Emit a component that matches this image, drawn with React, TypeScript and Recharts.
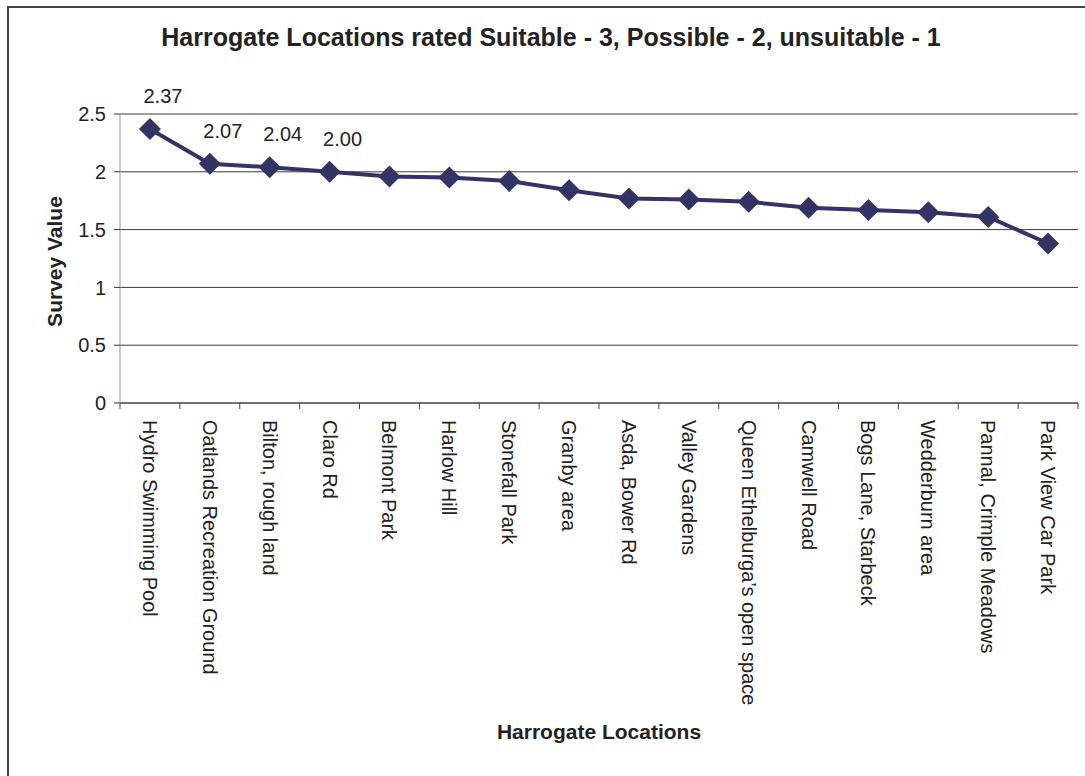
import { LineChart, Line, XAxis, YAxis, CartesianGrid, LabelList, Label } from 'recharts';

const categories = [
  'Hydro Swimming Pool',
  'Oatlands Recreation Ground',
  'Bilton, rough land',
  'Claro Rd',
  'Belmont Park',
  'Harlow Hill',
  'Stonefall Park',
  'Granby area',
  'Asda, Bower Rd',
  'Valley Gardens',
  'Queen Ethelburga’s open space',
  'Camwell Road',
  'Bogs Lane, Starbeck',
  'Wedderburn area',
  'Pannal, Crimple Meadows',
  'Park View Car Park',
];

const surveyValues = [2.37, 2.07, 2.04, 2.0, 1.96, 1.95, 1.92, 1.84, 1.77, 1.76, 1.74, 1.69, 1.67, 1.65, 1.61, 1.38];

const yTicks = [0, 0.5, 1, 1.5, 2, 2.5];

// only the first few points carry a value label in the original
const labelledCount = 4;

const data = categories.map((name, i) => ({ name, value: surveyValues[i] }));

const FONT = '"Liberation Sans", Arial, sans-serif';
const NAVY = '#333366';
const W = 1085;
const H = 776;
const PLOT_LEFT = 120;
const PLOT_RIGHT = 1078;
const HALF_BAND = (PLOT_RIGHT - PLOT_LEFT) / categories.length / 2;

function CategoryTick(props: any) {
  const { x, y, payload, index } = props;
  const top = y - 6;
  return (
    <g>
      <line x1={x - HALF_BAND} x2={x - HALF_BAND} y1={top} y2={top + 6} stroke="#444" />
      {index === categories.length - 1 && (
        <line x1={x + HALF_BAND} x2={x + HALF_BAND} y1={top} y2={top + 6} stroke="#444" />
      )}
      <text
        transform={`translate(${x},${top + 17}) rotate(90)`}
        textAnchor="start"
        dominantBaseline="central"
        fill="#222"
        fontSize={20}
        fontFamily={FONT}
      >
        {payload.value}
      </text>
    </g>
  );
}

function Diamond(props: any) {
  const { cx, cy, index } = props;
  const r = 11;
  return (
    <path
      key={`d-${index}`}
      d={`M${cx},${cy - r} L${cx + r},${cy} L${cx},${cy + r} L${cx - r},${cy} Z`}
      fill={NAVY}
    />
  );
}

function ValueLabel(props: any) {
  const { x, y, value, index } = props;
  if (index >= labelledCount) return null;
  return (
    <text
      x={x + 13}
      y={y - 33}
      textAnchor="middle"
      dominantBaseline="central"
      fill="#222"
      fontSize={20}
      fontFamily={FONT}
    >
      {Number(value).toFixed(2)}
    </text>
  );
}

export default function App() {
  return (
    <div style={{ position: 'absolute', left: 0, top: 0, width: W, height: H, background: '#fff', overflow: 'hidden' }}>
      <div
        style={{
          position: 'absolute',
          left: 7,
          top: 6,
          width: W,
          height: H,
          border: '2px solid #444',
          boxSizing: 'border-box',
        }}
      />
      <div
        style={{
          position: 'absolute',
          left: 551,
          top: 25,
          transform: 'translateX(-50%)',
          whiteSpace: 'nowrap',
          fontFamily: FONT,
          fontWeight: 'bold',
          fontSize: 25,
          lineHeight: '25px',
          color: '#222',
        }}
      >
        Harrogate Locations rated Suitable - 3, Possible - 2, unsuitable - 1
      </div>
      <LineChart
        width={W}
        height={H}
        data={data}
        margin={{ top: 114, right: W - PLOT_RIGHT, bottom: 0, left: 0 }}
        style={{ position: 'absolute', left: 0, top: 0 }}
      >
        <CartesianGrid vertical={false} stroke="#3a3a3a" />
        <XAxis
          dataKey="name"
          interval={0}
          height={H - 403}
          padding={{ left: HALF_BAND, right: HALF_BAND }}
          stroke="#444"
          tickLine={false}
          tickSize={6}
          tickMargin={0}
          tick={<CategoryTick />}
        >
          <Label
            content={({ viewBox }: any) => (
              <text
                x={viewBox.x + viewBox.width / 2}
                y={viewBox.y + 328}
                textAnchor="middle"
                dominantBaseline="central"
                fill="#222"
                fontSize={21}
                fontWeight="bold"
                fontFamily={FONT}
              >
                Harrogate Locations
              </text>
            )}
          />
        </XAxis>
        <YAxis
          width={PLOT_LEFT}
          domain={[0, 2.5]}
          ticks={yTicks}
          interval={0}
          axisLine={{ stroke: '#999' }}
          tickLine={{ stroke: '#333' }}
          tickSize={6}
          tickMargin={8}
          tick={{ fill: '#222', fontSize: 20, fontFamily: FONT }}
        >
          <Label
            content={({ viewBox }: any) => (
              <text
                transform={`translate(${54},${viewBox.y + viewBox.height / 2 + 3}) rotate(-90)`}
                textAnchor="middle"
                dominantBaseline="central"
                fill="#222"
                fontSize={21}
                fontWeight="bold"
                fontFamily={FONT}
              >
                Survey Value
              </text>
            )}
          />
        </YAxis>
        <Line
          dataKey="value"
          stroke={NAVY}
          strokeWidth={4}
          dot={Diamond}
          activeDot={false}
          isAnimationActive={false}
        >
          <LabelList dataKey="value" content={<ValueLabel />} />
        </Line>
      </LineChart>
    </div>
  );
}
